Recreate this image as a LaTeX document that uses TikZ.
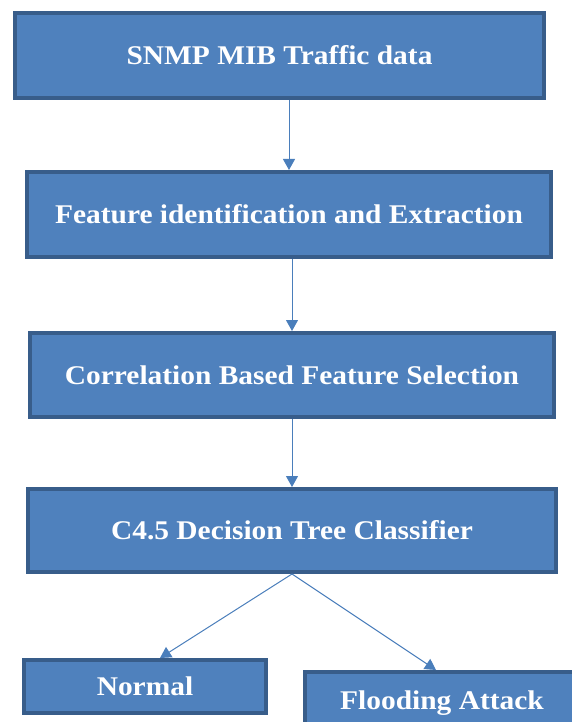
\documentclass[tikz,border=0pt]{standalone}
\usepackage{fontspec}
\setmainfont{Liberation Serif}
\newfontfamily\boxfont[FakeStretch=1.09]{Liberation Serif}
\usetikzlibrary{positioning, arrows.meta}
\definecolor{boxfill}{HTML}{4F81BD}
\definecolor{boxline}{HTML}{385D8A}
\definecolor{arrowblue}{HTML}{4A7EBB}

\begin{document}
\begin{tikzpicture}[x=1pt, y=-1pt,
	stage/.style={draw=boxline, fill=boxfill, line width=4pt, text=white,
		font=\boxfont\fontsize{27}{32}\selectfont\bfseries, inner sep=0pt},
	flow/.style={draw=arrowblue, line width=1pt, -{Triangle[width=12pt, length=11pt]}}]
\useasboundingbox (0,0) rectangle (571,722);
\foreach \n/\x/\y/\w/\h/\t in {snmp/279.5/55.5/529/85/SNMP MIB Traffic data,
		feat/289/214.5/524/85/Feature identification and Extraction,
		corr/292/375/524/84/Correlation Based Feature Selection,
		tree/292/530.5/528/83/C4.5 Decision Tree Classifier,
		normal/145/686.5/242/53/Normal,
		flood/442/703/274/62/Flooding Attack} {
	\node[stage, minimum width=\w pt, minimum height=\h pt] (\n) at (\x, \y) {\t};
}
\foreach \a/\b in {snmp/feat, feat/corr, corr/tree}
	\draw[flow] (\b.north |- \a.south) -- (\b.north);
\draw[flow] (tree.south) -- ([xshift=15pt]normal.north);
\draw[flow] (tree.south) -- ([xshift=-6pt]flood.north);
\end{tikzpicture}
\end{document}
